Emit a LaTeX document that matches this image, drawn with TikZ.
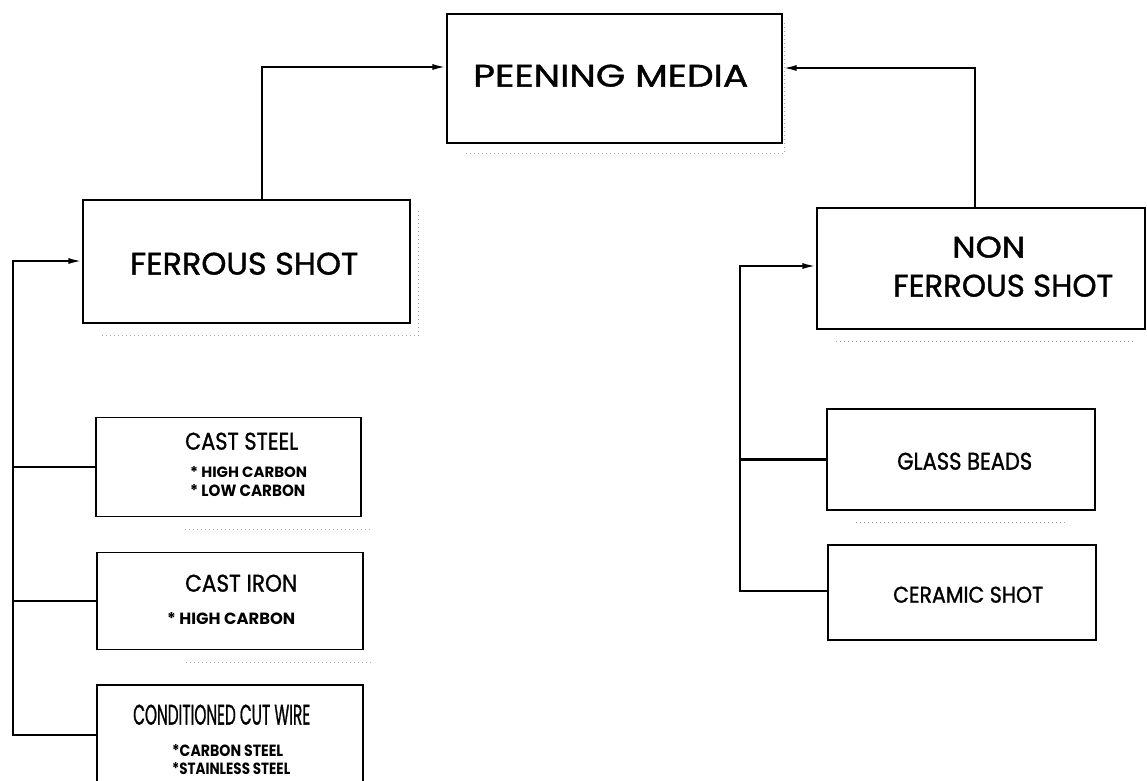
\documentclass[tikz,border=0pt]{standalone}
\usepackage{fontspec}
\usepackage{graphicx}
\setmainfont{Poppins}
\newfontfamily\popheavy{Poppins}[FakeBold=1.2]
\usetikzlibrary{arrows.meta}
\newcommand{\fitt}[3]{\resizebox{#1pt}{#2pt}{#3}}
\begin{document}
\begin{tikzpicture}[x=1pt,y=-1pt,
  box/.style={draw,line width=1.3pt,rectangle,inner sep=0pt},
  conn/.style={line width=2.1pt},
  arr/.style={conn,-{Latex[length=14pt,width=6pt]}},
  shade/.style={gray!70,line width=0.6pt,dash pattern=on 1pt off 3pt},
  txt/.style={anchor=south west,inner sep=0pt,font=\popheavy},
  btxt/.style={anchor=south west,inner sep=0pt,font=\bfseries}]
\useasboundingbox (0,0) rectangle (1147,780);
\clip (0,0) rectangle (1147,780);
% boxes
\node[box,minimum width=335pt,minimum height=129pt] (pm) at (614.5,78.5) {};
\node[box,minimum width=327pt,minimum height=123pt] (fs) at (246.5,261.5) {};
\node[box,minimum width=328pt,minimum height=121pt] (nfs) at (981,268.5) {};
\node[box,minimum width=265pt,minimum height=99pt] (cs) at (228.5,467) {};
\node[box,minimum width=266pt,minimum height=97pt] (ci) at (230,601) {};
\node[box,minimum width=266pt,minimum height=120pt] (ccw) at (230,745) {};
\node[box,minimum width=268pt,minimum height=101pt] (gb) at (961,459.5) {};
\node[box,minimum width=268pt,minimum height=95pt] (csh) at (962,592.5) {};
% faint shadows
\draw[shade] ([shift={(20,10)}]pm.south west) -- ([shift={(2,10)}]pm.south east) -- ([shift={(2,10)}]pm.north east);
\draw[shade] ([shift={(20,12)}]fs.south west) -- ([shift={(8,12)}]fs.south east) -- ([shift={(8,12)}]fs.north east);
\draw[shade] ([shift={(20,12)}]nfs.south west) -- ([shift={(-10,12)}]nfs.south east);
\draw[shade] ([shift={(90,12)}]cs.south west) -- ([shift={(10,12)}]cs.south east);
\draw[shade] ([shift={(90,12)}]ci.south west) -- ([shift={(8,12)}]ci.south east);
\draw[shade] ([shift={(30,12)}]gb.south west) -- ([shift={(-30,12)}]gb.south east);
% texts
\node[txt] (tpm) at (473,87) {\fitt{275}{22}{PEENING MEDIA}};
\node[txt] (tfs) at (130,275) {\fitt{228}{22}{FERROUS SHOT}};
\node[txt] (tnfs1) at (952,258) {\fitt{73}{21}{NON}};
\node[txt] (tnfs2) at (893,297) {\fitt{220}{22}{FERROUS SHOT}};
\node[txt] (tcs) at (185,450) {\fitt{113}{17}{CAST STEEL}};
\node[btxt] (tcs1) at (190,478) {\fitt{117}{11}{* HIGH CARBON}};
\node[btxt] (tcs2) at (190,497) {\fitt{115}{12}{* LOW CARBON}};
\node[txt] (tci) at (185,592) {\fitt{112}{17}{CAST IRON}};
\node[btxt] (tci1) at (167,625) {\fitt{128}{12}{* HIGH CARBON}};
\node[txt] (tccw) at (133,725) {\fitt{177}{20}{CONDITIONED CUT WIRE}};
\node[btxt] (tccw1) at (172,757) {\fitt{111}{12}{*CARBON STEEL}};
\node[btxt] (tccw2) at (172,775) {\fitt{118}{12}{*STAINLESS STEEL}};
\node[txt] (tgb) at (897,470) {\fitt{135}{17}{GLASS BEADS}};
\node[txt] (tcsh) at (893,603) {\fitt{150}{16}{CERAMIC SHOT}};
% connectors
\coordinate (a1) at (262,67);
\coordinate (a2) at (975,68);
\draw[arr] (a1 |- fs.north) -- (a1) -- (a1 -| pm.west);
\draw[arr] (a2 |- nfs.north) -- (a2) -- (a2 -| pm.east);
\coordinate (b1) at (13,261);
\coordinate (b2) at (13,735);
\draw[arr] (b2 -| ccw.west) -- (b2) -- (b1) -- (b1 -| fs.west);
\draw[conn] (cs.west) -- (cs.west -| b1);
\draw[conn] (ci.west) -- (ci.west -| b1);
\coordinate (c1) at (740,266);
\coordinate (c2) at (740,591);
\draw[arr] (c2 -| csh.west) -- (c2) -- (c1) -- (c1 -| nfs.west);
\draw[conn] (gb.west) -- (gb.west -| c1);
\end{tikzpicture}
\end{document}
